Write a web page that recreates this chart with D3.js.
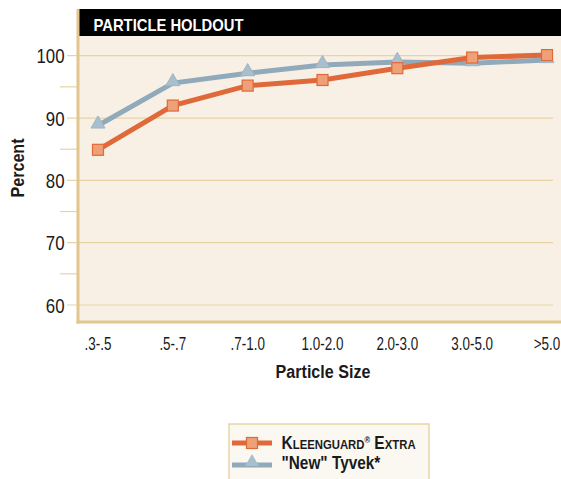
<!DOCTYPE html>
<html>
<head>
<meta charset="utf-8">
<script src="https://cdn.jsdelivr.net/npm/d3@7"></script>
<style>
  body { margin: 0; background: #fff; }
  svg { display: block; }
  text { font-family: "Liberation Sans", Arial, sans-serif; fill: #1a1a1a; }
</style>
</head>
<body>
<svg width="561" height="479"></svg>
<script>
const width = 561, height = 479;

// data
const categories = [".3-.5", ".5-.7", ".7-1.0", "1.0-2.0", "2.0-3.0", "3.0-5.0", ">5.0"];
const kleenguard = [84.9, 92.0, 95.2, 96.1, 98.0, 99.7, 100.1];
const tyvek = [88.8, 95.6, 97.2, 98.5, 99.0, 98.8, 99.3];
const yTicks = [60, 70, 80, 90, 100];
const yMinor = [65, 75, 85, 95];

const plot = { left: 78, right: 561, top: 36, bottom: 322 };

const svg = d3.select("svg");

const x = d3.scalePoint()
    .domain(categories)
    .range([98, 547]);

const y = d3.scaleLinear()
    .domain([60, 100])
    .range([305, 55.7]);

// condensed text: the original uses a narrow face, so squeeze a regular one
function label(sel, px, py, sx, rot) {
    return sel.append("text")
        .attr("transform", `translate(${px},${py})` + (rot ? ` rotate(${rot})` : "") + ` scale(${sx},1)`);
}

// plot background
svg.append("rect")
    .attr("x", plot.left)
    .attr("y", plot.top)
    .attr("width", plot.right - plot.left)
    .attr("height", plot.bottom - plot.top)
    .attr("fill", "#f8f0e5");

// title bar
svg.append("rect")
    .attr("x", plot.left + 1)
    .attr("y", 9)
    .attr("width", plot.right - plot.left)
    .attr("height", 27)
    .attr("fill", "#000");

label(svg, 93.5, 30.5, 0.87)
    .attr("font-size", 17)
    .attr("font-weight", "bold")
    .style("fill", "#fff")
    .text("PARTICLE HOLDOUT");

// gridlines
svg.selectAll(".grid")
    .data(yTicks)
    .enter().append("line")
    .attr("class", "grid")
    .attr("x1", 67)
    .attr("x2", 553)
    .attr("y1", d => y(d))
    .attr("y2", d => y(d))
    .attr("stroke", "#e8d3a6")
    .attr("stroke-width", 1.2);

// minor ticks
svg.selectAll(".minor")
    .data(yMinor)
    .enter().append("line")
    .attr("class", "minor")
    .attr("x1", 60)
    .attr("x2", plot.left)
    .attr("y1", d => y(d))
    .attr("y2", d => y(d))
    .attr("stroke", "#e8d3a6")
    .attr("stroke-width", 1.2);

// axis borders
svg.append("line")
    .attr("x1", plot.left)
    .attr("x2", plot.left)
    .attr("y1", 9)
    .attr("y2", plot.bottom + 1.5)
    .attr("stroke", "#e2c68e")
    .attr("stroke-width", 3);

svg.append("line")
    .attr("x1", plot.left - 1.5)
    .attr("x2", plot.right)
    .attr("y1", plot.bottom)
    .attr("y2", plot.bottom)
    .attr("stroke", "#e2c68e")
    .attr("stroke-width", 3);

// y tick labels
yTicks.forEach(d => {
    label(svg, 64.5, y(d) + 7.5, 0.82)
        .attr("text-anchor", "end")
        .attr("font-size", 20.5)
        .text(d);
});

// x tick labels
categories.forEach(d => {
    label(svg, x(d), 350, 0.76)
        .attr("text-anchor", "middle")
        .attr("font-size", 17.7)
        .text(d);
});

// axis titles
label(svg, 323, 377.5, 0.87)
    .attr("text-anchor", "middle")
    .attr("font-size", 18.5)
    .attr("font-weight", "bold")
    .text("Particle Size");

label(svg, 24, 168, 0.87, -90)
    .attr("text-anchor", "middle")
    .attr("font-size", 18.5)
    .attr("font-weight", "bold")
    .text("Percent");

// series
const orange = "#e0693a", orangeFill = "#eea077";
const blue = "#91aabb", blueFill = "#a9bfcd";

const line = d3.line()
    .x((d, i) => x(categories[i]))
    .y(d => y(d));

svg.append("path")
    .datum(tyvek)
    .attr("d", line)
    .attr("fill", "none")
    .attr("stroke", blue)
    .attr("stroke-width", 5);

svg.append("path")
    .datum(kleenguard)
    .attr("d", line)
    .attr("fill", "none")
    .attr("stroke", orange)
    .attr("stroke-width", 5);

const tri = d3.symbol().type(d3.symbolTriangle).size(85);

svg.selectAll(".tri")
    .data(tyvek)
    .enter().append("path")
    .attr("class", "tri")
    .attr("d", tri)
    .attr("transform", (d, i) => `translate(${x(categories[i])},${y(d) - 1.5})`)
    .attr("fill", blueFill)
    .attr("stroke", "#9fb6c5")
    .attr("stroke-width", 1);

svg.selectAll(".sq")
    .data(kleenguard)
    .enter().append("rect")
    .attr("class", "sq")
    .attr("x", (d, i) => x(categories[i]) - 5.5)
    .attr("y", d => y(d) - 5.5)
    .attr("width", 11)
    .attr("height", 11)
    .attr("fill", orangeFill)
    .attr("stroke", orange)
    .attr("stroke-width", 1.2);

// legend
const legend = svg.append("g").attr("transform", "translate(229,424)");

legend.append("rect")
    .attr("width", 200)
    .attr("height", 60)
    .attr("fill", "#fbf8f2")
    .attr("stroke", "#e8d3a6")
    .attr("stroke-width", 1.5);

const rows = [
    { color: orange, fill: orangeFill, shape: "square", y: 19 },
    { color: blue, fill: blueFill, shape: "triangle", y: 41 }
];

rows.forEach(r => {
    legend.append("line")
        .attr("x1", 3).attr("x2", 43)
        .attr("y1", r.y).attr("y2", r.y)
        .attr("stroke", r.color)
        .attr("stroke-width", 5);
    if (r.shape === "square") {
        legend.append("rect")
            .attr("x", 17.5).attr("y", r.y - 5.5)
            .attr("width", 11).attr("height", 11)
            .attr("fill", r.fill).attr("stroke", r.color).attr("stroke-width", 1.2);
    } else {
        legend.append("path")
            .attr("d", tri)
            .attr("transform", `translate(23,${r.y - 3})`)
            .attr("fill", r.fill);
    }
});

const t1 = label(legend, 52.5, 24.5, 0.84)
    .attr("font-weight", "bold")
    .attr("font-size", 18.5);
t1.append("tspan").text("K");
t1.append("tspan").attr("font-size", 13.5).text("LEENGUARD");
t1.append("tspan").attr("font-size", 9).attr("dy", -6).text("®");
t1.append("tspan").attr("dy", 6).text(" E");
t1.append("tspan").attr("font-size", 13.5).text("XTRA");

label(legend, 52.5, 44.5, 0.83)
    .attr("font-weight", "bold")
    .attr("font-size", 18.5)
    .text("\"New\" Tyvek*");
</script>
</body>
</html>
